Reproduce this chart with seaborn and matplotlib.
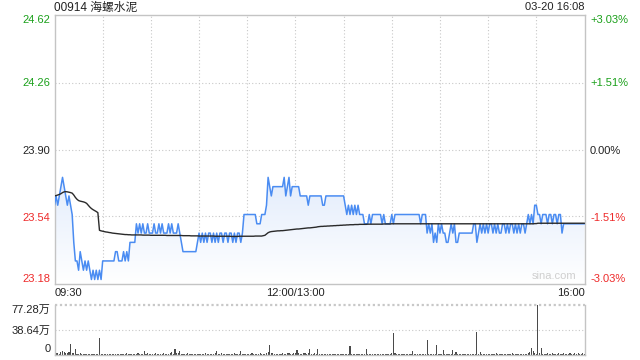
import numpy as np
import pandas as pd
import matplotlib
matplotlib.use("Agg")
import matplotlib.pyplot as plt
import matplotlib.transforms as mtrans
import seaborn as sns

# ---------------- data ----------------
title_text = "00914 海螺水泥"
date_text = "03-20 16:08"
prev_close = 23.90
price_ticks = [23.18, 23.54, 23.90, 24.26, 24.62]
pct_labels = ["-3.03%", "-1.51%", "0.00%", "+1.51%", "+3.03%"]
pct_values = [-0.0303, -0.01515, 0.0, 0.01515, 0.0303]
time_labels = ["09:30", "12:00/13:00", "16:00"]
time_label_minutes = [0, 150, 330]
vol_ticks = [0, 38.64, 77.28]
vol_labels = ["0", "38.64万", "77.28万"]

price = [
    23.60, 23.65, 23.60, 23.65, 23.70, 23.75, 23.70, 23.65, 23.60, 23.65,
    23.60, 23.55, 23.40, 23.30, 23.30, 23.25, 23.35, 23.30, 23.25, 23.30,
    23.25, 23.30, 23.25, 23.20, 23.25, 23.20, 23.25, 23.20, 23.25, 23.20,
    23.30, 23.30, 23.30, 23.30, 23.30, 23.30, 23.30, 23.30, 23.35, 23.35,
    23.30, 23.30, 23.30, 23.35, 23.30, 23.35, 23.30, 23.40, 23.40, 23.40,
    23.40, 23.50, 23.45, 23.50, 23.45, 23.50, 23.45, 23.45, 23.50, 23.45,
    23.45, 23.45, 23.50, 23.45, 23.45, 23.50, 23.45, 23.50, 23.45, 23.45,
    23.45, 23.50, 23.45, 23.50, 23.45, 23.45, 23.45, 23.50, 23.45, 23.40,
    23.35, 23.35, 23.35, 23.35, 23.35, 23.35, 23.35, 23.35, 23.35, 23.40,
    23.45, 23.40, 23.45, 23.40, 23.45, 23.40, 23.45, 23.45, 23.40, 23.45,
    23.40, 23.45, 23.40, 23.45, 23.45, 23.40, 23.45, 23.45, 23.40, 23.45,
    23.45, 23.40, 23.45, 23.40, 23.45, 23.45, 23.40, 23.45, 23.55, 23.55,
    23.55, 23.55, 23.55, 23.55, 23.55, 23.55, 23.50, 23.50, 23.50, 23.55,
    23.55, 23.55, 23.60, 23.75, 23.70, 23.65, 23.70, 23.70, 23.70, 23.70,
    23.70, 23.70, 23.70, 23.75, 23.65, 23.70, 23.75, 23.65, 23.70, 23.70,
    23.70, 23.70, 23.70, 23.65, 23.65, 23.65, 23.65, 23.65, 23.60, 23.65,
    23.65, 23.65, 23.65, 23.65, 23.65, 23.65, 23.65, 23.60, 23.60, 23.65,
    23.65, 23.65, 23.65, 23.65, 23.65, 23.65, 23.65, 23.65, 23.65, 23.65,
    23.65, 23.60, 23.55, 23.60, 23.55, 23.60, 23.55, 23.60, 23.55, 23.60,
    23.55, 23.55, 23.55, 23.50, 23.50, 23.50, 23.55, 23.50, 23.55, 23.55,
    23.55, 23.55, 23.55, 23.55, 23.50, 23.55, 23.50, 23.50, 23.50, 23.50,
    23.55, 23.50, 23.55, 23.55, 23.55, 23.55, 23.55, 23.55, 23.55, 23.55,
    23.55, 23.55, 23.55, 23.55, 23.55, 23.55, 23.55, 23.55, 23.50, 23.55,
    23.55, 23.55, 23.45, 23.50, 23.45, 23.50, 23.40, 23.45, 23.40, 23.50,
    23.45, 23.50, 23.45, 23.45, 23.40, 23.40, 23.45, 23.50, 23.45, 23.50,
    23.40, 23.40, 23.45, 23.45, 23.45, 23.45, 23.45, 23.45, 23.45, 23.45,
    23.45, 23.50, 23.50, 23.40, 23.45, 23.50, 23.45, 23.50, 23.45, 23.50,
    23.45, 23.50, 23.50, 23.45, 23.50, 23.45, 23.50, 23.45, 23.45, 23.50,
    23.50, 23.45, 23.50, 23.45, 23.50, 23.50, 23.45, 23.50, 23.45, 23.50,
    23.45, 23.50, 23.50, 23.45, 23.50, 23.55, 23.50, 23.55, 23.50, 23.60,
    23.60, 23.55, 23.55, 23.50, 23.55, 23.55, 23.55, 23.50, 23.55, 23.55,
    23.50, 23.55, 23.55, 23.50, 23.55, 23.55, 23.45, 23.50, 23.50, 23.50,
    23.50, 23.50, 23.50, 23.50, 23.50, 23.50, 23.50, 23.50, 23.50, 23.50,
    23.50,
]

avg_price = [
    23.650, 23.652, 23.655, 23.658, 23.662, 23.668, 23.672, 23.673, 23.672, 23.670,
    23.668, 23.665, 23.655, 23.642, 23.632, 23.625, 23.622, 23.620, 23.618, 23.615,
    23.610, 23.600, 23.590, 23.582, 23.576, 23.571, 23.566, 23.560, 23.465, 23.462,
    23.460, 23.458, 23.456, 23.455, 23.453, 23.452, 23.450, 23.449, 23.448, 23.447,
    23.446, 23.445, 23.444, 23.443, 23.442, 23.442, 23.441, 23.441, 23.440, 23.440,
    23.440, 23.440, 23.440, 23.440, 23.440, 23.439, 23.439, 23.439, 23.439, 23.439,
    23.438, 23.438, 23.438, 23.438, 23.438, 23.438, 23.438, 23.438, 23.438, 23.438,
    23.437, 23.437, 23.437, 23.437, 23.437, 23.437, 23.437, 23.437, 23.437, 23.437,
    23.436, 23.436, 23.436, 23.436, 23.436, 23.435, 23.435, 23.435, 23.435, 23.435,
    23.434, 23.434, 23.434, 23.434, 23.434, 23.434, 23.434, 23.434, 23.434, 23.434,
    23.433, 23.433, 23.433, 23.433, 23.433, 23.433, 23.433, 23.433, 23.433, 23.433,
    23.432, 23.432, 23.432, 23.432, 23.432, 23.433, 23.433, 23.433, 23.433, 23.433,
    23.433, 23.433, 23.433, 23.433, 23.433, 23.434, 23.434, 23.434, 23.434, 23.434,
    23.436, 23.438, 23.445, 23.452, 23.456, 23.458, 23.459, 23.460, 23.461, 23.462,
    23.462, 23.463, 23.463, 23.464, 23.465, 23.466, 23.467, 23.468, 23.469, 23.470,
    23.471, 23.472, 23.472, 23.473, 23.474, 23.475, 23.476, 23.477, 23.478, 23.478,
    23.479, 23.480, 23.481, 23.482, 23.484, 23.485, 23.486, 23.486, 23.487, 23.487,
    23.488, 23.488, 23.489, 23.489, 23.490, 23.490, 23.491, 23.491, 23.492, 23.492,
    23.493, 23.493, 23.494, 23.494, 23.495, 23.495, 23.495, 23.496, 23.496, 23.496,
    23.497, 23.497, 23.497, 23.497, 23.497, 23.498, 23.498, 23.498, 23.498, 23.498,
    23.498, 23.498, 23.498, 23.498, 23.498, 23.499, 23.499, 23.499, 23.499, 23.499,
    23.500, 23.500, 23.500, 23.500, 23.500, 23.500, 23.500, 23.500, 23.500, 23.500,
    23.500, 23.500, 23.500, 23.500, 23.500, 23.500, 23.500, 23.500, 23.500, 23.500,
    23.500, 23.500, 23.500, 23.500, 23.500, 23.500, 23.500, 23.500, 23.500, 23.500,
    23.500, 23.500, 23.500, 23.500, 23.500, 23.500, 23.500, 23.500, 23.500, 23.500,
    23.500, 23.500, 23.500, 23.500, 23.500, 23.500, 23.500, 23.500, 23.500, 23.500,
    23.500, 23.500, 23.500, 23.500, 23.500, 23.500, 23.500, 23.500, 23.500, 23.500,
    23.500, 23.500, 23.500, 23.500, 23.500, 23.500, 23.500, 23.500, 23.500, 23.500,
    23.500, 23.500, 23.500, 23.500, 23.500, 23.500, 23.500, 23.500, 23.500, 23.500,
    23.500, 23.500, 23.500, 23.500, 23.500, 23.500, 23.500, 23.500, 23.500, 23.501,
    23.501, 23.503, 23.503, 23.503, 23.503, 23.503, 23.503, 23.503, 23.503, 23.503,
    23.503, 23.503, 23.503, 23.503, 23.503, 23.503, 23.503, 23.503, 23.503, 23.503,
    23.503, 23.503, 23.503, 23.503, 23.503, 23.503, 23.503, 23.503, 23.503, 23.503,
    23.503,
]

volume_wan = [
    2.6, 3.0, 2.6, 1.5, 4.5, 5.0, 4.0, 2.0, 3.0, 4.0,
    17.0, 3.0, 2.0, 9.0, 1.5, 1.0, 2.0, 1.0, 1.5, 1.0,
    1.0, 1.5, 0.8, 1.0, 1.2, 1.0, 0.8, 1.5, 26.0, 1.5,
    1.0, 0.8, 1.2, 1.0, 0.8, 1.0, 1.5, 1.0, 0.8, 1.2,
    1.0, 1.5, 1.0, 0.8, 1.0, 2.5, 1.0, 0.8, 1.2, 1.0,
    1.5, 1.0, 2.5, 1.0, 1.2, 1.0, 6.0, 1.0, 2.0, 1.0,
    1.5, 1.0, 1.2, 2.0, 1.0, 1.5, 1.0, 0.8, 2.5, 1.0,
    1.5, 1.0, 2.0, 3.5, 1.0, 9.0, 2.0, 3.0, 6.0, 1.5,
    1.0, 1.5, 1.0, 2.0, 1.0, 1.2, 1.0, 1.5, 1.0, 1.0,
    1.5, 1.0, 1.2, 1.0, 2.0, 1.0, 1.5, 1.0, 1.2, 1.0,
    2.0, 6.0, 1.5, 1.0, 2.0, 1.0, 1.5, 1.0, 1.2, 1.0,
    1.5, 1.0, 2.0, 1.0, 1.5, 1.0, 5.0, 1.0, 1.5, 1.0,
    1.2, 1.0, 1.5, 2.0, 1.0, 1.5, 1.0, 1.2, 2.0, 1.0,
    1.5, 1.0, 2.5, 3.5, 14.6, 3.0, 2.0, 1.5, 1.0, 1.5,
    1.0, 1.5, 2.0, 1.0, 1.5, 3.0, 2.0, 1.0, 1.5, 2.0,
    2.5, 7.0, 2.0, 1.0, 1.5, 3.0, 2.0, 1.5, 2.0, 8.0,
    1.5, 1.0, 2.0, 1.5, 8.0, 1.0, 1.5, 1.0, 1.2, 1.0,
    1.5, 1.0, 1.2, 1.0, 1.5, 1.0, 1.2, 1.0, 1.5, 1.0,
    1.2, 1.0, 1.5, 1.0, 13.0, 1.0, 1.5, 1.0, 1.2, 1.0,
    1.5, 1.0, 1.2, 1.0, 8.0, 1.0, 1.5, 1.0, 1.2, 1.0,
    1.5, 1.0, 1.2, 1.0, 1.5, 1.0, 1.2, 1.0, 1.5, 1.0,
    2.0, 33.0, 2.5, 1.0, 1.5, 1.0, 1.2, 1.0, 1.5, 1.0,
    1.2, 1.0, 1.5, 5.0, 1.0, 1.5, 1.0, 1.2, 1.0, 1.5,
    1.0, 1.2, 22.5, 1.0, 1.5, 1.0, 1.2, 1.0, 14.6, 1.0,
    1.5, 1.0, 7.0, 1.0, 1.2, 1.0, 1.5, 1.0, 7.0, 1.0,
    4.0, 1.0, 1.5, 1.0, 1.2, 1.0, 1.5, 1.0, 1.2, 1.0,
    1.5, 1.0, 1.2, 35.0, 1.0, 4.0, 1.5, 1.0, 1.2, 1.0,
    1.5, 1.0, 1.2, 1.0, 1.5, 2.0, 1.2, 1.0, 1.5, 1.0,
    1.2, 1.0, 1.5, 1.0, 1.2, 3.0, 1.5, 1.0, 1.2, 1.0,
    1.5, 1.0, 1.2, 1.0, 1.5, 2.0, 4.0, 9.4, 5.0, 2.0,
    1.5, 77.28, 2.0, 9.4, 1.5, 1.0, 1.2, 2.0, 1.5, 1.0,
    3.0, 1.0, 1.5, 1.0, 2.5, 1.2, 1.0, 2.0, 1.5, 1.0,
    1.5, 2.0, 1.2, 1.0, 2.5, 1.5, 2.0, 1.2, 1.5, 2.0, 1.0,
]

minutes = list(range(len(price)))
df = pd.DataFrame({"minute": minutes, "price": price, "avg": avg_price, "vol": volume_wan})

# ---------------- style ----------------
sns.set_style("white")
plt.rcParams["font.family"] = ["Liberation Sans", "Noto Sans CJK SC", "DejaVu Sans"]

GREEN = "#1aa01a"
RED = "#ee2a2a"
BLUE = "#4a8cf2"
GRID = "#c8c8c8"
SPINE = "#c4c4c4"

fig = plt.figure(figsize=(6.4, 3.6), dpi=100)
W, H = 640, 360
L, R = 54.5, 584.5
ax = fig.add_axes([L / W, 1 - 284 / H, (R - L) / W, (284 - 15) / H])
axv = fig.add_axes([L / W, 1 - 354.5 / H, (R - L) / W, (354.5 - 305) / H])

ylo = prev_close * (1 + pct_values[0])
yhi = prev_close * (1 + pct_values[-1])
xmax = len(price) - 1

# gradient fill under the price line
poly = ax.fill_between(df["minute"], df["price"], ylo, color="none", lw=0)
grad = np.linspace(0, 1, 256).reshape(-1, 1)
cmap = matplotlib.colors.LinearSegmentedColormap.from_list("g", ["#ffffff", "#e2ecfc"])
im = ax.imshow(grad, cmap=cmap, aspect="auto", origin="lower",
               extent=[0, xmax, ylo, 23.76], zorder=1)
im.set_clip_path(poly.get_paths()[0], transform=ax.transData)

sns.lineplot(data=df, x="minute", y="price", ax=ax, color=BLUE, linewidth=1.1, zorder=3)
sns.lineplot(data=df, x="minute", y="avg", ax=ax, color="#2a2a2a", linewidth=1.0, zorder=4)

ax.set_xlim(0, xmax)
ax.set_ylim(ylo, yhi)
ax.set_xlabel("")
ax.set_ylabel("")

# grid lines
for m in range(30, xmax, 30):
    ax.axvline(m, color=GRID, lw=0.8, ls=(0, (1, 2)), zorder=0)
for p in price_ticks[1:-1]:
    ax.axhline(p, color=GRID, lw=0.8, ls=(0, (1, 2)), zorder=0)

for s in ax.spines.values():
    s.set_color(SPINE)
    s.set_linewidth(1)

# left price labels
tick_pos = [prev_close * (1 + v) for v in pct_values]
colors = [RED, RED, "#222222", GREEN, GREEN]
ax.set_yticks(tick_pos)
ax.set_yticklabels([f"{v:.2f}" for v in price_ticks], fontsize=8)
ax.tick_params(axis="y", length=0, pad=3)
for i, lab in enumerate(ax.get_yticklabels()):
    lab.set_color(colors[i])
    if i == 0:
        lab.set_verticalalignment("bottom")
    elif i == len(tick_pos) - 1:
        lab.set_verticalalignment("top")

# right percent labels
ax2 = ax.twinx()
ax2.set_ylim(ylo, yhi)
ax2.set_yticks(tick_pos)
ax2.set_yticklabels(pct_labels, fontsize=8)
ax2.tick_params(axis="y", length=0, pad=4)
for i, lab in enumerate(ax2.get_yticklabels()):
    lab.set_color(colors[i])
    if i == 0:
        lab.set_verticalalignment("bottom")
    elif i == len(tick_pos) - 1:
        lab.set_verticalalignment("top")
for s in ax2.spines.values():
    s.set_visible(False)

# x labels
ax.set_xticks(time_label_minutes)
ax.set_xticklabels(time_labels, fontsize=8, color="#222222")
ax.tick_params(axis="x", length=0, pad=3)
xl = ax.get_xticklabels()
xl[0].set_horizontalalignment("left")
xl[-1].set_horizontalalignment("right")

# watermark
ax.text(0.985, 0.012, "sina.com", transform=ax.transAxes, ha="right", va="bottom",
        fontsize=8, color="#cfcfcf", zorder=5)

# ---------------- volume ----------------
sns.barplot(data=df, x="minute", y="vol", ax=axv, native_scale=True, color="#4a4a4a",
            width=0.7, linewidth=0, saturation=1)
axv.set_xlim(0, xmax)
axv.set_ylim(0, vol_ticks[-1])
axv.set_xlabel("")
axv.set_ylabel("")
axv.set_xticks([])
axv.axhline(vol_ticks[1], color=GRID, lw=0.8, ls=(0, (1, 2)), zorder=0)
axv.axhline(vol_ticks[2], color=GRID, lw=1.6, ls=(0, (1, 1.2)), zorder=0, clip_on=False)
axv.set_yticks(vol_ticks)
axv.set_yticklabels(vol_labels, fontsize=8, color="#222222")
axv.tick_params(axis="y", length=0, pad=3)
vl = axv.get_yticklabels()
vl[0].set_verticalalignment("bottom")
vl[-1].set_verticalalignment("top")
for k, s in axv.spines.items():
    s.set_color(SPINE)
    s.set_linewidth(1)
axv.spines["top"].set_visible(False)

# header
fig.text(L / W, 1 - 7.5 / H, title_text, ha="left", va="center", fontsize=8.5, color="#222222")
fig.text(R / W, 1 - 7.5 / H, date_text, ha="right", va="center", fontsize=8, color="#222222")

fig.savefig("out.png", dpi=100)
